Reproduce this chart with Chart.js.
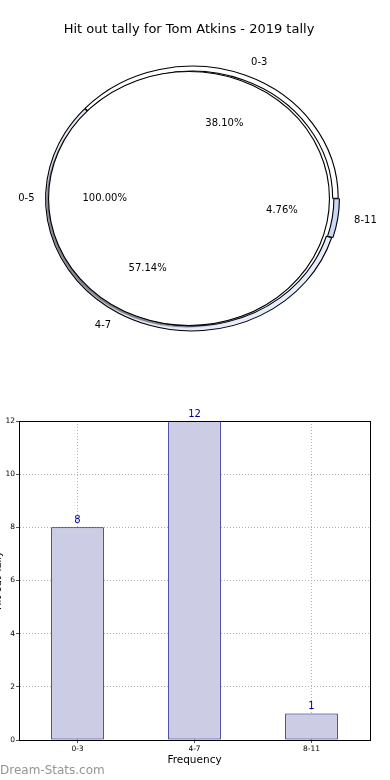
<!DOCTYPE html>
<html>
<head>
<meta charset="utf-8">
<script src="https://cdn.jsdelivr.net/npm/chart.js@4.4.1/dist/chart.umd.min.js"></script>
<style>
  html, body { margin: 0; padding: 0; background: #fff; }
  body { width: 390px; height: 780px; position: relative; overflow: hidden; }
  #pieWrap { position: absolute; left: 0; top: 0; width: 390px; height: 390px; }
  #barWrap { position: absolute; left: -8px; top: 400px; width: 398px; height: 380px; }
  #credit { position: absolute; left: 0; top: 762px; font: 12px 'DejaVu Sans', sans-serif; color: #959595; line-height: 16px; }
</style>
</head>
<body>
<div id="pieWrap"><canvas id="pieChart"></canvas></div>
<div id="barWrap"><canvas id="barChart"></canvas></div>
<div id="credit">Dream-Stats.com</div>
<script>
// data
const categories = ['0-3', '4-7', '8-11'];
const hitOuts = [8, 12, 1];
const groupLabels = ['0-5'];
const groupTotals = [21];
const sliceColors = ['#ffffff', '#e6edfc', '#c8daf8'];
const sliceOffsets = [1, 1, 3];

const FONT = 'DejaVu Sans';
const stretchX = 1.106; // the pie is drawn as an ellipse

// pie goes counter-clockwise from 3 o'clock, chart.js goes clockwise, so flip the order
const rev = arr => arr.slice().reverse();

function pieCentre(chart) {
    const a = chart.chartArea;
    return { cx: (a.left + a.right) / 2, cy: (a.top + a.bottom) / 2 };
}

const ellipsePie = {
    id: 'ellipsePie',
    beforeDatasetDraw(chart, args) {
        const ctx = chart.ctx;
        const { cx, cy } = pieCentre(chart);
        const ds = chart.data.datasets[args.index];
        ctx.save();
        ctx.translate(cx + (ds.shift || 0), cy);
        ctx.scale(stretchX, 1);
        ctx.translate(-cx, -cy);
        if (ds.shadow) {
            ctx.shadowColor = ds.shadow;
            ctx.shadowOffsetX = -2;
            ctx.shadowOffsetY = 2;
            ctx.shadowBlur = 1;
        }
    },
    afterDatasetDraw(chart, args) {
        const ctx = chart.ctx;
        const ds = chart.data.datasets[args.index];
        if (ds.outline) {
            // single 100% wedge: stroke only the rim, chart.js would add a radius line
            ctx.shadowColor = 'rgba(0,0,0,0)';
            ctx.strokeStyle = ds.outline;
            ctx.lineWidth = 1;
            args.meta.data.forEach(arc => {
                const p = arc.getProps(['x', 'y', 'outerRadius'], true);
                ctx.beginPath();
                ctx.arc(p.x, p.y, p.outerRadius, 0, Math.PI * 2);
                ctx.stroke();
            });
        }
        ctx.restore();
    },
    afterDraw(chart) {
        const ctx = chart.ctx;
        ctx.save();
        ctx.font = '10px "' + FONT + '"';
        ctx.fillStyle = '#000';
        ctx.textBaseline = 'middle';
        chart.data.datasets.forEach((ds, di) => {
            const meta = chart.getDatasetMeta(di);
            const total = ds.data.reduce((s, v) => s + v, 0);
            const shift = ds.shift || 0;
            meta.data.forEach((arc, i) => {
                const p = arc.getProps(['x', 'y', 'startAngle', 'endAngle', 'outerRadius'], true);
                const mid = (p.startAngle + p.endAngle) / 2;
                const off = Array.isArray(ds.offset) ? ds.offset[i] : 0;
                const c = Math.cos(mid), s = Math.sin(mid);
                const dn = p.outerRadius * 1.1 + off;
                ctx.textAlign = c > 0 ? 'left' : 'right';
                ctx.fillText(ds.names[i], p.x + shift + c * dn * stretchX, p.y + s * dn);
                const dp = p.outerRadius * 0.6 + off;
                ctx.textAlign = 'center';
                ctx.fillText((ds.data[i] / total * 100).toFixed(2) + '%', p.x + shift + c * dp * stretchX, p.y + s * dp);
            });
        });
        ctx.restore();
    }
};

new Chart(document.getElementById('pieChart'), {
    type: 'pie',
    data: {
        labels: rev(categories),
        datasets: [{
            data: rev(hitOuts),
            names: rev(categories),
            backgroundColor: rev(sliceColors),
            offset: rev(sliceOffsets),
            borderColor: '#000',
            borderWidth: 1,
            weight: 5,
            shift: 3,
            clip: false
        }, {
            data: groupTotals,
            names: groupLabels,
            backgroundColor: '#ffffff',
            borderWidth: 0,
            outline: '#000',
            shadow: 'rgba(0,0,0,0.45)',
            weight: 127,
            order: -1,
            clip: false
        }]
    },
    options: {
        responsive: true,
        maintainAspectRatio: false,
        animation: false,
        rotation: 90,
        radius: 132,
        layout: { padding: { top: 0, left: 0, right: 12, bottom: 30.6 } },
        plugins: {
            legend: { display: false },
            tooltip: { enabled: false },
            title: {
                display: true,
                text: 'Hit out tally for Tom Atkins - 2019 tally',
                color: '#000',
                font: { family: FONT, size: 13, weight: 'normal' },
                padding: { top: 22, bottom: 0 }
            }
        }
    },
    plugins: [ellipsePie]
});

// bar chart
const frame = {
    id: 'frame',
    afterDraw(chart) {
        const ctx = chart.ctx, a = chart.chartArea;
        ctx.save();
        ctx.strokeStyle = '#000';
        ctx.lineWidth = 1;
        ctx.strokeRect(Math.round(a.left) + 0.5, Math.round(a.top) + 0.5, Math.round(a.right - a.left), Math.round(a.bottom - a.top));
        ctx.restore();
    }
};

const barValues = {
    id: 'barValues',
    afterDatasetsDraw(chart) {
        const ctx = chart.ctx;
        ctx.save();
        ctx.font = '10px "' + FONT + '"';
        ctx.fillStyle = '#000099';
        ctx.textAlign = 'center';
        ctx.textBaseline = 'bottom';
        chart.getDatasetMeta(0).data.forEach((bar, i) => {
            ctx.fillText(String(chart.data.datasets[0].data[i]), bar.x, bar.y - 2);
        });
        ctx.restore();
    }
};

const gridLook = { color: '#b4b4b4', tickLength: 3, tickColor: '#555', offset: false };

new Chart(document.getElementById('barChart'), {
    type: 'bar',
    data: {
        labels: categories,
        datasets: [{
            data: hitOuts,
            backgroundColor: 'rgb(204,204,228)',
            borderColor: '#000080',
            borderWidth: 1,
            borderSkipped: false,
            barPercentage: 0.45,
            categoryPercentage: 1
        }]
    },
    options: {
        responsive: true,
        maintainAspectRatio: false,
        animation: false,
        layout: { padding: { top: 21, right: 20, bottom: 0, left: 0 } },
        plugins: { legend: { display: false }, tooltip: { enabled: false } },
        scales: {
            x: {
                grid: gridLook,
                border: { display: true, color: '#000', dash: [1, 2] },
                ticks: { font: { family: FONT, size: 7.5 }, color: '#000', padding: 2 },
                title: {
                    display: true, text: 'Frequency', color: '#000',
                    font: { family: FONT, size: 10.5 }, padding: { top: 0, bottom: 13.7 }
                },
                afterFit(scale) { scale.height = 40; }
            },
            y: {
                min: 0,
                max: 12,
                grid: gridLook,
                border: { display: true, color: '#000', dash: [1, 2] },
                ticks: { stepSize: 2, font: { family: FONT, size: 7.5 }, color: '#000', padding: 1 },
                title: {
                    display: true, text: 'Hit out Tally', color: '#000',
                    font: { family: FONT, size: 10 }, padding: { top: 0, bottom: 0 }
                },
                afterFit(scale) { scale.width = 27; }
            }
        }
    },
    plugins: [frame, barValues]
});
</script>
</body>
</html>
